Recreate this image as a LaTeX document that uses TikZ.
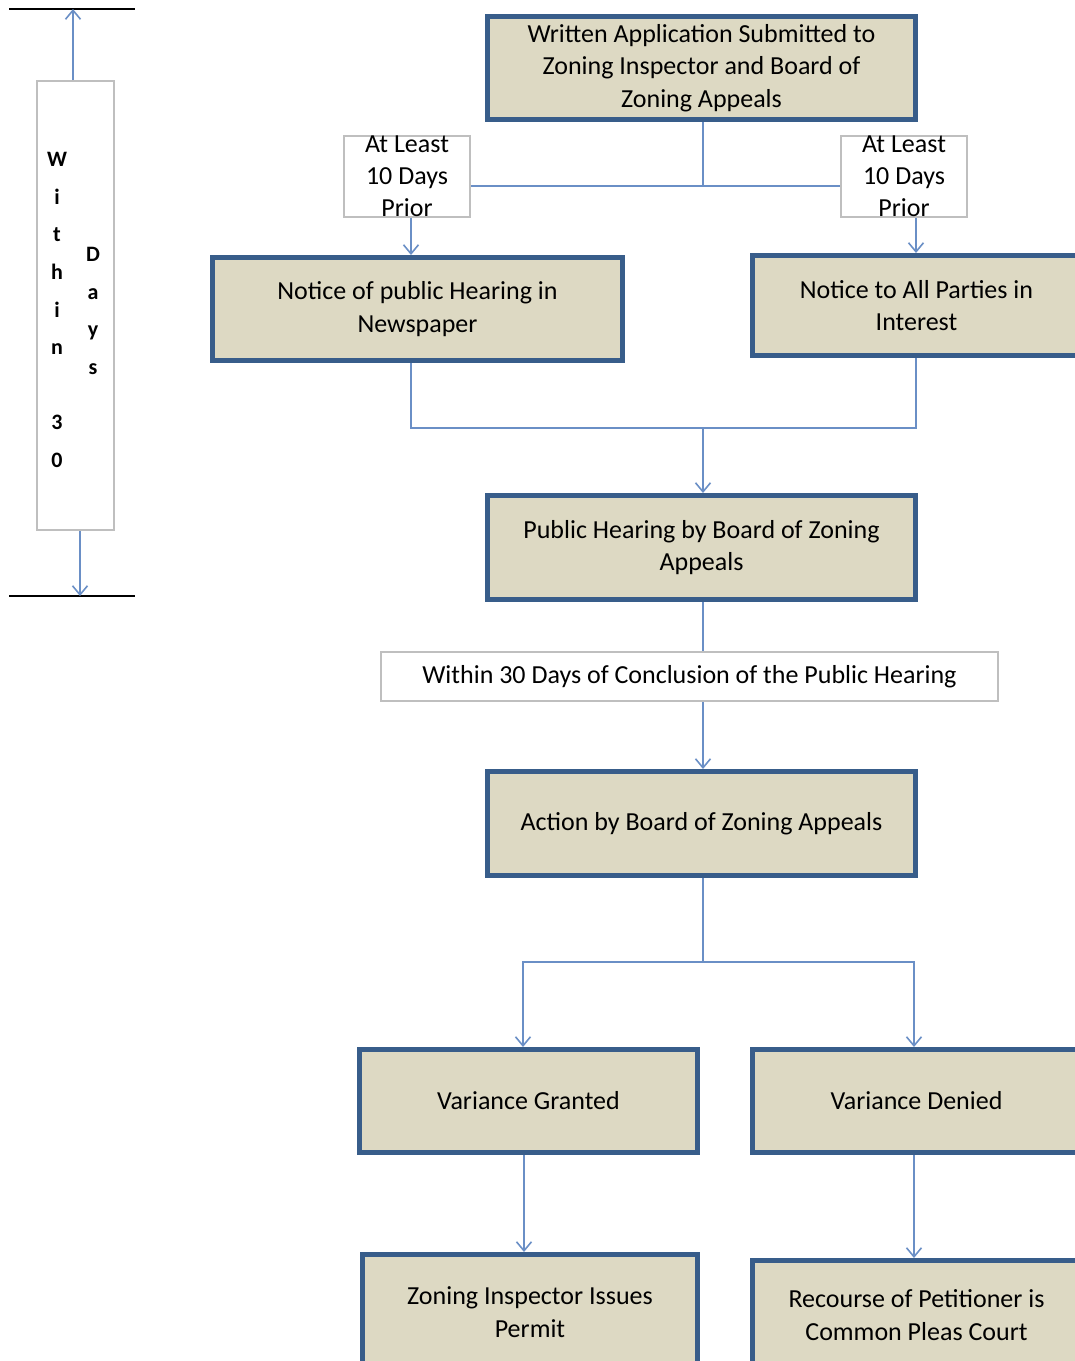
\documentclass[tikz,border=0pt]{standalone}
\usepackage{fontspec}
\setmainfont{Carlito}
\usetikzlibrary{arrows.meta}
\definecolor{boxfill}{HTML}{DDD9C3}
\definecolor{boxline}{HTML}{385D8A}
\definecolor{linkblue}{HTML}{6A8FC6}
\definecolor{tagline}{HTML}{BFBFBF}
\begin{document}
\begin{tikzpicture}[x=1pt,y=-1pt,
    stage/.style={draw=boxline,line width=5pt,fill=boxfill,align=center,
                  minimum height=103pt,inner sep=0pt,text=black,
                  font=\fontsize{26}{32.5}\selectfont},
    tag/.style={draw=tagline,line width=2pt,fill=white,align=center,inner sep=0pt,
                text=black,font=\fontsize{26}{32}\selectfont},
    link/.style={draw=linkblue,line width=2.6pt},
    flow/.style={link,-{Straight Barb[length=9pt,width=15pt,line width=1.6pt]}},
    bar/.style={line width=2pt,black}]
    \useasboundingbox (0,0) rectangle (1075,1361);

    %side note
    \draw [bar] (9,9) -- (135,9);
    \draw [bar] (9,596) -- (135,596);
    \coordinate (topL) at (73,9);
    \coordinate (botL) at (80,596);
    \node [tag,minimum width=77pt,minimum height=449pt] (side) at (75.5,305.5) {};
    \node [align=center,inner sep=0pt,font=\fontsize{22}{37.6}\selectfont\bfseries]
          (withinCol) at (57,310) {W\\i\\t\\h\\i\\n\\[37.6pt]3\\0};
    \node [align=center,inner sep=0pt,font=\fontsize{22}{37.8}\selectfont\bfseries]
          (daysCol) at (93,311) {D\\a\\y\\s};
    \draw [flow] (side.north -| topL) -- (topL);
    \draw [flow] (side.south -| botL) -- (botL);

    %application and notices
    \node [stage,minimum width=428pt] (apply) at (701.5,68)
          {Written Application Submitted to\\Zoning Inspector and Board of\\Zoning Appeals};
    \node [tag,minimum width=126pt,minimum height=79pt] (leftprior) at (407,176.5)
          {At Least\\10 Days\\Prior};
    \node [tag,minimum width=126pt,minimum height=79pt] (rightprior) at (904,176.5)
          {At Least\\10 Days\\Prior};
    \node [stage,minimum width=410pt] (newspaper) at (417.5,309)
          {Notice of public Hearing in\\Newspaper};
    \node [stage,minimum width=328pt,minimum height=100pt] (parties) at (916.5,305.5)
          {Notice to All Parties in\\Interest};

    \coordinate (split1) at (703,186);
    \draw [link] (apply.south -| split1) -- (split1);
    \draw [link] (split1) -- (leftprior.east |- split1);
    \draw [link] (split1) -- (rightprior.west |- split1);
    \draw [flow] (leftprior.south -| 411,0) -- (newspaper.north -| 411,0);
    \draw [flow] (rightprior.south -| 916,0) -- (parties.north -| 916,0);

    %hearing
    \node [stage,minimum width=428pt,minimum height=104pt] (hearing) at (701.5,547.5)
          {Public Hearing by Board of Zoning\\Appeals};
    \coordinate (merge) at (703,428);
    \draw [link] (newspaper.south -| 411,0) |- (merge);
    \draw [link] (parties.south -| 916,0) |- (merge);
    \draw [flow] (merge) -- (hearing.north -| merge);

    \node [tag,minimum width=617pt,minimum height=49pt] (within) at (689.5,676.5)
          {Within 30 Days of Conclusion of the Public Hearing};
    \node [stage,minimum width=428pt,minimum height=104pt] (action) at (701.5,823.5)
          {Action by Board of Zoning Appeals};
    \draw [link] (hearing.south -| merge) -- (within.north -| merge);
    \draw [flow] (within.south -| merge) -- (action.north -| merge);

    %outcome
    \node [stage,minimum width=338pt] (granted) at (528.5,1101) {Variance Granted};
    \node [stage,minimum width=328pt] (denied) at (916.5,1101) {Variance Denied};
    \node [stage,minimum width=335pt,minimum height=115pt] (permit) at (530,1312)
          {Zoning Inspector Issues\\Permit};
    \node [stage,minimum width=328pt,minimum height=109pt] (recourse) at (916.5,1315)
          {Recourse of Petitioner is\\Common Pleas Court};

    \coordinate (split2) at (703,962);
    \draw [link] (action.south -| split2) -- (split2);
    \draw [flow] (split2) -| (granted.north -| 523,0);
    \draw [flow] (split2) -| (denied.north -| 914,0);
    \draw [flow] (granted.south -| 524,0) -- (permit.north -| 524,0);
    \draw [flow] (denied.south -| 914,0) -- (recourse.north -| 914,0);
\end{tikzpicture}
\end{document}
